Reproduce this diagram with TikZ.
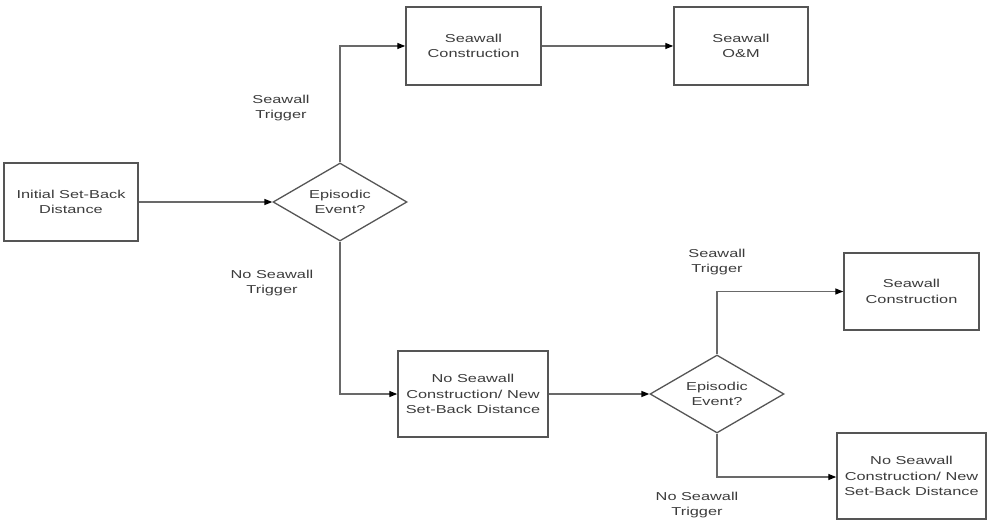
\documentclass[tikz,border=0pt]{standalone}
\usepackage{fontspec}
\setmainfont[FakeStretch=1.42]{Liberation Sans}
\usetikzlibrary{shapes.geometric,arrows.meta}
\definecolor{linegray}{RGB}{105,105,105}
\definecolor{boxgray}{RGB}{85,85,85}
\definecolor{txtgray}{RGB}{60,60,60}
\tikzset{
  x=1pt, y=-1pt,
  every node/.style={font=\fontsize{11.5}{15.5}\selectfont, text=txtgray, align=center},
  procbox/.style={draw=boxgray, line width=1.5pt, fill=white, inner sep=0pt},
  decide/.style={draw=boxgray, line width=1.3pt, diamond, aspect=1.7, inner sep=0pt,
    minimum width=134pt, minimum height=78pt},
  conn/.style={draw=linegray, line width=1.4pt, -{Triangle[length=8pt,width=6pt,color=black]}},
  lbl/.style={}
}
\begin{document}
\begin{tikzpicture}
\useasboundingbox (0,0) rectangle (987,521);
\node[procbox, minimum width=134pt, minimum height=78pt] (init) at (71,202) {Initial Set-Back\\Distance};
\node[decide] (d1) at (340,202) {Episodic\\Event?};
\node[procbox, minimum width=135pt, minimum height=78pt] (sc1) at (473.5,46) {Seawall\\Construction};
\node[procbox, minimum width=134pt, minimum height=78pt] (om) at (741,46) {Seawall\\O\&M};
\node[procbox, minimum width=150pt, minimum height=86pt] (nsc1) at (473,394) {No Seawall\\Construction/ New\\Set-Back Distance};
\node[decide] (d2) at (717,394) {Episodic\\Event?};
\node[procbox, minimum width=135pt, minimum height=77pt] (sc2) at (911.5,291.5) {Seawall\\Construction};
\node[procbox, minimum width=149pt, minimum height=86pt] (nsc2) at (911.5,476) {No Seawall\\Construction/ New\\Set-Back Distance};

\node[lbl] (l1) at (281,108) {Seawall\\Trigger};
\node[lbl] (l2) at (272,283) {No Seawall\\Trigger};
\node[lbl] (l3) at (717,262) {Seawall\\Trigger};
\node[lbl] (l4) at (697,505) {No Seawall\\Trigger};

\draw[conn] (init.east) -- (d1.west);
\draw[conn] (d1.north) |- (sc1.west);
\draw[conn] (sc1.east) -- (om.west);
\draw[conn] (d1.south) |- (nsc1.west);
\draw[conn] (nsc1.east) -- (d2.west);
\draw[conn] (d2.north) |- (sc2.west);
\draw[conn] (d2.south) |- ([yshift=-1pt]nsc2.west);
\end{tikzpicture}
\end{document}
